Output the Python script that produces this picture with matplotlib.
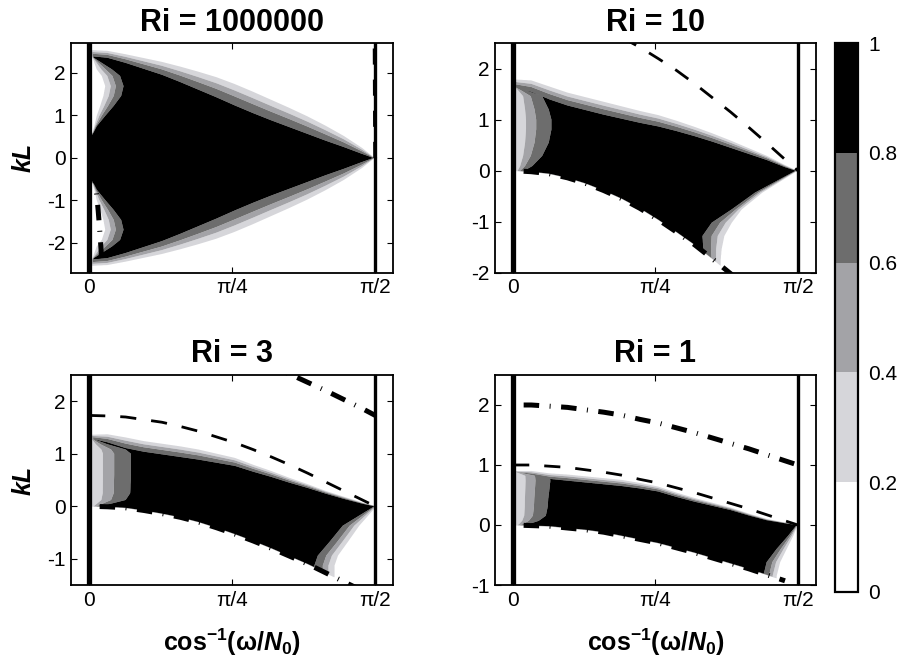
import numpy as np
import matplotlib
matplotlib.use('Agg')
import matplotlib.pyplot as plt
from matplotlib.colors import ListedColormap, BoundaryNorm
from matplotlib.cm import ScalarMappable

plt.rcParams['font.family'] = ['Liberation Sans', 'DejaVu Sans']
plt.rcParams['mathtext.fontset'] = 'custom'
plt.rcParams['mathtext.rm'] = 'Liberation Sans:bold'
plt.rcParams['mathtext.it'] = 'Liberation Sans:italic:bold'
plt.rcParams['mathtext.bf'] = 'Liberation Sans:bold'
plt.rcParams['axes.unicode_minus'] = False

# ---------------- data ----------------
titles = ['Ri = 1000000', 'Ri = 10', 'Ri = 3', 'Ri = 1']
levels = [0, 0.2, 0.4, 0.6, 0.8, 1.0]
level_colors = ['#ffffff', '#d6d6da', '#a3a3a7', '#6d6d6d', '#000000']
band_frac = [0.0, 0.42, 0.70, 1.0]          # contour 0.8, 0.6, 0.4, 0.2 across a halo
xticks = [0, np.pi / 4, np.pi / 2]
xticklabels = ['0', 'π/4', 'π/2']
yticks = [[-2, -1, 0, 1, 2], [-2, -1, 0, 1, 2], [-1, 0, 1, 2], [-1, 0, 1, 2]]
ylims = [(-2.7, 2.7), (-2.0, 2.5), (-1.5, 2.5), (-1.0, 2.5)]
vline_x = [0.0, np.pi / 2]
cbar_ticks = [0, 0.2, 0.4, 0.6, 0.8, 1]
cbar_labels = ['0', '0.2', '0.4', '0.6', '0.8', '1']

xs = [0, 0.1, 0.2, 0.3, 0.4, 0.5, 0.6, 0.7, 0.8, 0.9, 1.0, 1.1, 1.2, 1.3, 1.4, 1.5]

# --- Ri = 1000000 ---
A_top_x = [0, 0.1, 0.2, 0.3, 0.4, 0.5, 0.6, 0.7, 0.8, 0.9, 1.0, 1.1, 1.2, 1.3, 1.4, 1.5, 1.565, 1.7]
A_top = [2.40, 2.36, 2.24, 2.10, 1.96, 1.79, 1.61, 1.43, 1.24, 1.06, 0.89, 0.73, 0.57, 0.41, 0.26, 0.10, 0.0, -0.1]
A_top_w = [0.14, 0.16, 0.20, 0.25, 0.30, 0.36, 0.42, 0.47, 0.50, 0.50, 0.48, 0.45, 0.41, 0.35, 0.26, 0.14, 0.02, 0.02]
A_bot = [-2.40, -2.36, -2.24, -2.10, -1.96, -1.79, -1.61, -1.43, -1.24, -1.06, -0.89, -0.73, -0.57, -0.41, -0.26, -0.10, 0.0, 0.1]
A_bot_w = A_top_w
A_left_k = [-2.7, -2.40, -2.36, -2.085, -1.93, -1.69, -1.46, -1.22, -0.99, -0.75, -0.6, -0.5,
            0.5, 0.6, 0.75, 0.99, 1.22, 1.46, 1.69, 1.93, 2.085, 2.36, 2.40, 2.7]
A_left_x = [0.024, 0.024, 0.024, 0.125, 0.17, 0.189, 0.176, 0.134, 0.088, 0.042, 0.024, 0.01,
            0.01, 0.024, 0.042, 0.088, 0.134, 0.176, 0.189, 0.17, 0.125, 0.024, 0.024, 0.024]
A_left_w = [0.01, 0.01, 0.005, 0.083, 0.10, 0.10, 0.097, 0.073, 0.046, 0.013, 0.005, 0.01,
            0.01, 0.005, 0.013, 0.046, 0.073, 0.097, 0.10, 0.10, 0.083, 0.005, 0.01, 0.01]
A_right_k = [-3.0, 3.0]
A_right_x = [3.0, 3.0]
A_right_w = [1.0, 1.0]
A_low_x = [0.0, 0.02, 0.03, 0.04, 0.05, 0.06, 0.07]
A_low_k = [0.0, -0.2, -0.45, -0.8, -1.25, -1.8, -2.45]
A_dash_x = [1.5708, 1.5681]
A_dash_k = [0.0, 2.7]

# --- Ri = 10 ---
B_top_x = [0, 0.1, 0.2, 0.3, 0.4, 0.5, 0.6, 0.7, 0.8, 0.9, 1.0, 1.1, 1.2, 1.3, 1.4, 1.5, 1.56, 1.7]
B_top = [1.64, 1.55, 1.40, 1.28, 1.19, 1.10, 1.02, 0.94, 0.87, 0.78, 0.68, 0.57, 0.45, 0.33, 0.21, 0.07, 0.0, -0.12]
B_top_w = [0.15, 0.22, 0.25, 0.25, 0.25, 0.25, 0.24, 0.23, 0.22, 0.20, 0.18, 0.16, 0.14, 0.11, 0.08, 0.04, 0.01, 0.01]
B_low_k = [0.0, -0.02, -0.06, -0.14, -0.25, -0.39, -0.55, -0.74, -0.96, -1.20, -1.45, -1.73, -2.02, -2.32, -2.62, -2.92]
B_left_k = [-2.0, 0.0, 0.05, 0.09, 0.29, 0.55, 0.81, 1.0, 1.2, 1.46, 1.56, 1.63, 2.5]
B_left_x = [0.0, 0.06, 0.085, 0.105, 0.16, 0.196, 0.211, 0.211, 0.196, 0.16, 0.08, 0.02, 0.02]
B_left_w = [0.01, 0.05, 0.075, 0.095, 0.15, 0.186, 0.20, 0.20, 0.186, 0.15, 0.07, 0.01, 0.01]
B_right_k = [-2.0, -1.74, -1.54, -1.28, -1.02, -0.76, -0.43, 0.0, 0.02, 2.5]
B_right_x = [1.06, 1.06, 1.05, 1.045, 1.096, 1.206, 1.335, 1.56, 3.0, 3.0]
B_right_w = [0.085, 0.085, 0.10, 0.12, 0.11, 0.055, 0.04, 0.01, 0.1, 0.1]
B_dash_x = [0.6, 0.7, 0.8, 0.9, 1.0, 1.1, 1.2, 1.3, 1.4, 1.5, 1.571]
B_dash_k = [2.61, 2.42, 2.20, 1.97, 1.71, 1.43, 1.15, 0.85, 0.54, 0.22, 0.0]

# --- Ri = 3 ---
C_top_x = [0, 0.1, 0.2, 0.3, 0.4, 0.5, 0.6, 0.7, 0.8, 0.9, 1.0, 1.1, 1.2, 1.3, 1.4, 1.5, 1.567, 1.7]
C_top = [1.30, 1.22, 1.11, 1.04, 0.99, 0.94, 0.89, 0.83, 0.77, 0.66, 0.56, 0.45, 0.35, 0.24, 0.14, 0.05, 0.0, -0.1]
C_top_w = [0.06, 0.15, 0.20, 0.20, 0.20, 0.20, 0.19, 0.17, 0.15, 0.13, 0.11, 0.09, 0.07, 0.05, 0.04, 0.02, 0.01, 0.01]
C_low_k = [0.0, -0.01, -0.03, -0.08, -0.14, -0.21, -0.30, -0.41, -0.53, -0.66, -0.80, -0.95, -1.10, -1.27, -1.44, -1.61]
C_left_k = [-1.5, 0.0, 0.05, 0.12, 0.25, 0.6, 1.0, 1.08, 1.18, 1.27, 2.5]
C_left_x = [0.0, 0.06, 0.12, 0.20, 0.225, 0.229, 0.229, 0.20, 0.10, 0.03, 0.03]
C_left_w = [0.01, 0.05, 0.11, 0.19, 0.215, 0.219, 0.219, 0.19, 0.09, 0.02, 0.02]
C_right_k = [-1.5, -1.225, -1.13, -0.94, -0.68, -0.37, 0.0, 0.02, 2.5]
C_right_x = [1.237, 1.237, 1.237, 1.256, 1.32, 1.393, 1.567, 3.0, 3.0]
C_right_w = [0.11, 0.11, 0.11, 0.11, 0.10, 0.09, 0.01, 0.1, 0.1]
C_dash_x = xs + [1.571]
C_dash_k = [1.73, 1.72, 1.70, 1.65, 1.60, 1.52, 1.43, 1.32, 1.21, 1.08, 0.94, 0.79, 0.63, 0.46, 0.29, 0.12, 0.0]
C_dd_x = [0.9, 1.0, 1.1, 1.2, 1.3, 1.4, 1.5, 1.571]
C_dd_k = [2.81, 2.67, 2.52, 2.36, 2.20, 2.03, 1.86, 1.73]

# --- Ri = 1 ---
D_top_x = [0, 0.1, 0.2, 0.3, 0.4, 0.5, 0.6, 0.7, 0.8, 0.9, 1.0, 1.1, 1.2, 1.3, 1.4, 1.5, 1.565, 1.7]
D_top = [0.88, 0.83, 0.77, 0.74, 0.71, 0.68, 0.65, 0.61, 0.56, 0.47, 0.39, 0.32, 0.25, 0.16, 0.08, 0.03, 0.0, -0.08]
D_top_w = [0.02, 0.07, 0.09, 0.10, 0.10, 0.10, 0.10, 0.09, 0.08, 0.07, 0.06, 0.05, 0.04, 0.03, 0.02, 0.01, 0.005, 0.005]
D_low_k = [0.0, -0.01, -0.02, -0.05, -0.08, -0.12, -0.18, -0.24, -0.30, -0.38, -0.46, -0.55, -0.64, -0.73, -0.83, -0.93]
D_left_k = [-1.0, 0.0, 0.016, 0.07, 0.155, 0.3, 0.43, 0.6, 0.74, 0.82, 0.88, 2.5]
D_left_x = [0.0, 0.06, 0.086, 0.141, 0.18, 0.19, 0.193, 0.20, 0.205, 0.20, 0.03, 0.03]
D_left_w = [0.01, 0.05, 0.076, 0.13, 0.17, 0.18, 0.183, 0.19, 0.195, 0.19, 0.02, 0.02]
D_right_k = [-1.0, -0.845, -0.62, -0.4, -0.178, 0.0, 0.02, 2.5]
D_right_x = [1.381, 1.381, 1.399, 1.454, 1.518, 1.565, 3.0, 3.0]
D_right_w = [0.073, 0.073, 0.074, 0.055, 0.028, 0.005, 0.1, 0.1]
D_dash_x = xs + [1.571]
D_dash_k = [1.0, 1.0, 0.98, 0.96, 0.92, 0.88, 0.83, 0.76, 0.70, 0.62, 0.54, 0.45, 0.36, 0.27, 0.17, 0.07, 0.0]
D_dd_x = xs + [1.571]
D_dd_k = [2.0, 2.0, 1.98, 1.96, 1.92, 1.88, 1.83, 1.76, 1.70, 1.62, 1.54, 1.45, 1.36, 1.27, 1.17, 1.07, 1.0]

panels = [
    dict(top_x=A_top_x, top=A_top, top_w=A_top_w, bot_x=A_top_x, bot=A_bot, bot_w=A_bot_w,
         lk=A_left_k, lx=A_left_x, lw=A_left_w, rk=A_right_k, rx=A_right_x, rw=A_right_w,
         low=(A_low_x, A_low_k), dash=(A_dash_x, A_dash_k), dd=None),
    dict(top_x=B_top_x, top=B_top, top_w=B_top_w, bot_x=xs, bot=B_low_k, bot_w=[0.006],
         lk=B_left_k, lx=B_left_x, lw=B_left_w, rk=B_right_k, rx=B_right_x, rw=B_right_w,
         low=(xs, B_low_k), dash=(B_dash_x, B_dash_k), dd=None),
    dict(top_x=C_top_x, top=C_top, top_w=C_top_w, bot_x=xs, bot=C_low_k, bot_w=[0.006],
         lk=C_left_k, lx=C_left_x, lw=C_left_w, rk=C_right_k, rx=C_right_x, rw=C_right_w,
         low=(xs, C_low_k), dash=(C_dash_x, C_dash_k), dd=(C_dd_x, C_dd_k)),
    dict(top_x=D_top_x, top=D_top, top_w=D_top_w, bot_x=xs, bot=D_low_k, bot_w=[0.006],
         lk=D_left_k, lx=D_left_x, lw=D_left_w, rk=D_right_k, rx=D_right_x, rw=D_right_w,
         low=(xs, D_low_k), dash=(D_dash_x, D_dash_k), dd=(D_dd_x, D_dd_k)),
]

rects = [[0.0785, 0.590, 0.356, 0.345], [0.5476, 0.590, 0.355, 0.345],
         [0.0785, 0.1203, 0.3567, 0.3158], [0.5476, 0.1203, 0.355, 0.3158]]


def w_at(q, xp, w):
    if len(w) == 1:
        return np.full_like(q, w[0])
    return np.interp(q, xp, w)


def build_field(P, xg, kg):
    X, K = np.meshgrid(xg, kg)
    s_top = (K - np.interp(X, P['top_x'], P['top'])) / np.interp(X, P['top_x'], P['top_w'])
    s_bot = (np.interp(X, P['bot_x'], P['bot']) - K) / w_at(X, P['bot_x'], P['bot_w'])
    s_left = (np.interp(K, P['lk'], P['lx']) - X) / np.interp(K, P['lk'], P['lw'])
    s_right = (X - np.interp(K, P['rk'], P['rx'])) / np.interp(K, P['rk'], P['rw'])
    s = np.maximum.reduce([s_top, s_bot, s_left, s_right])
    return np.interp(s, [-1.0] + band_frac + [2.0], [0.99, 0.8, 0.6, 0.4, 0.2, 0.01])


dash_style = (0, (5.8, 5.4))
dd_style = (5.4, (3.1, 2.1, 0.2, 2.1))

fig = plt.figure(figsize=(9.04, 6.65), dpi=100)
xlim = (-0.1, np.pi / 2 + 0.1)

for i, P in enumerate(panels):
    ax = fig.add_axes(rects[i])
    xg = np.linspace(xlim[0], xlim[1], 900)
    kg = np.linspace(ylims[i][0], ylims[i][1], 800)
    Z = build_field(P, xg, kg)
    ax.contourf(xg, kg, Z, levels=levels, colors=level_colors, antialiased=True)
    ax.axvline(vline_x[0], color='black', lw=3.8, zorder=5)
    ax.axvline(vline_x[1], color='black', lw=2.4, zorder=5)
    if P['dash'] is not None:
        ax.plot(P['dash'][0], P['dash'][1], color='black', lw=2.0, ls=dash_style, zorder=6)
    if P['dd'] is not None:
        ax.plot(P['dd'][0], P['dd'][1], color='black', lw=3.6, ls=dd_style, zorder=6)
    ax.plot(P['low'][0], P['low'][1], color='black', lw=3.6, ls=dd_style, zorder=6)

    ax.set_xlim(xlim)
    ax.set_ylim(ylims[i])
    ax.set_xticks(xticks)
    ax.set_xticklabels(xticklabels)
    ax.set_yticks(yticks[i])
    ax.set_yticklabels([str(t) for t in yticks[i]])
    ax.tick_params(direction='in', top=True, right=True, length=4, width=0.8,
                   labelsize=15, pad=4)
    for sp in ax.spines.values():
        sp.set_linewidth(1.3)
    ax.set_title(titles[i], fontsize=22, fontweight='bold', pad=9)
    if i in (0, 2):
        ax.set_ylabel('kL', fontsize=18, fontweight='bold', fontstyle='italic', labelpad=8)
    if i in (2, 3):
        ax.set_xlabel('cos$^{-1}$(ω/$N_0$)', fontsize=18, fontweight='bold', labelpad=12)

cax = fig.add_axes([0.9237, 0.1102, 0.0258, 0.8247])
sm = ScalarMappable(norm=BoundaryNorm(levels, 5), cmap=ListedColormap(level_colors))
cb = fig.colorbar(sm, cax=cax, ticks=cbar_ticks)
cb.ax.set_yticklabels(cbar_labels)
cb.ax.tick_params(length=0, labelsize=15, pad=7)
cb.outline.set_linewidth(1.6)

fig.savefig('out.png', dpi=100)
